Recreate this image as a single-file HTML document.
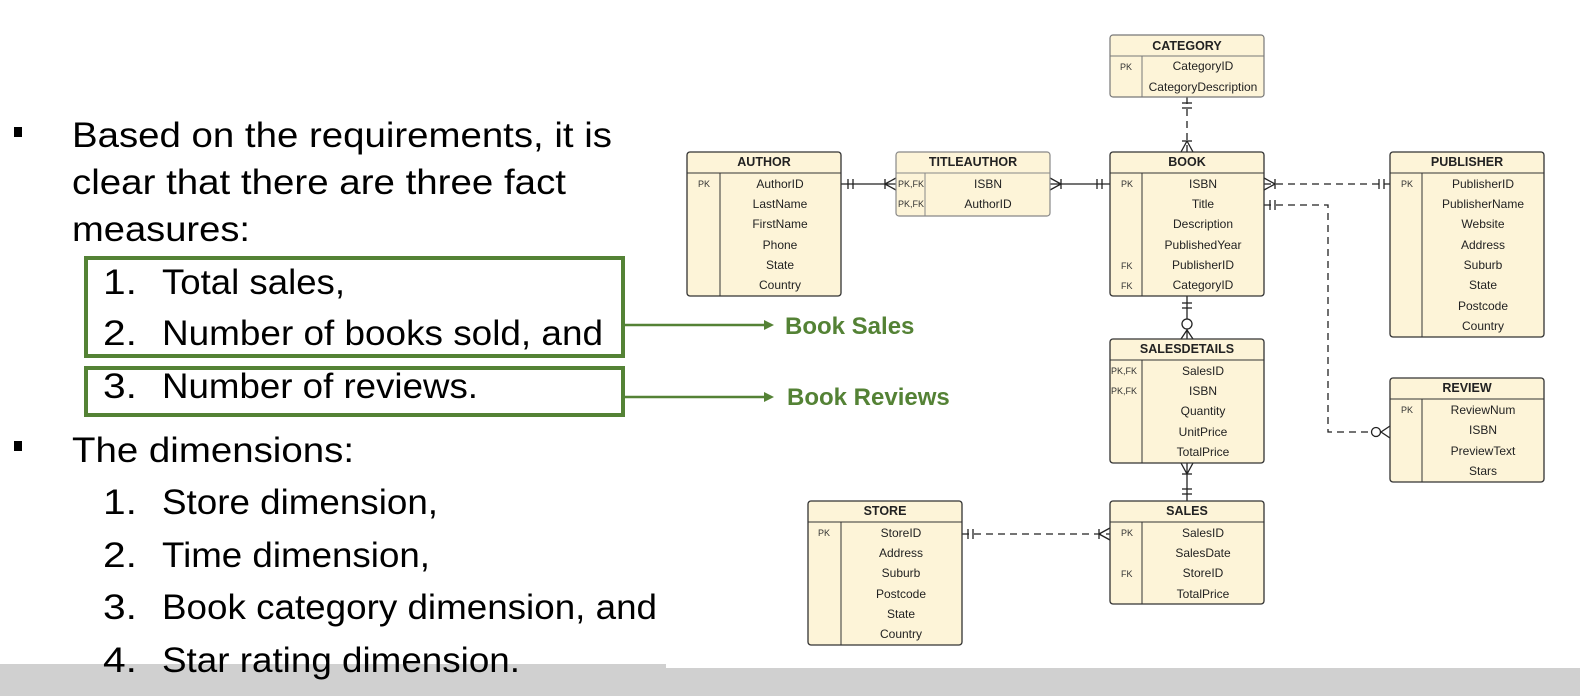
<!DOCTYPE html>
<html><head><meta charset="utf-8"><style>
html,body{margin:0;padding:0;background:#fff;width:1580px;height:696px;overflow:hidden}
svg{display:block}
.t{font-family:"Liberation Sans",Arial,sans-serif;font-size:35px;fill:#000}
.e{font-family:"Liberation Sans",Arial,sans-serif;font-size:12px;fill:#222;text-anchor:middle}
.k{font-family:"Liberation Sans",Arial,sans-serif;font-size:9px;fill:#333}
.h{font-family:"Liberation Sans",Arial,sans-serif;font-size:12.5px;font-weight:bold;fill:#222;text-anchor:middle}
.g{font-family:"Liberation Sans",Arial,sans-serif;font-size:24px;font-weight:bold;fill:#548235}
</style></head><body>
<svg width="1580" height="696" viewBox="0 0 1580 696" xmlns="http://www.w3.org/2000/svg">
<rect x="0" y="664" width="666" height="32" fill="#d0d0d0"/>
<rect x="666" y="668" width="914" height="28" fill="#d0d0d0"/>

<g lengthAdjust="spacingAndGlyphs">
<rect x="14" y="127" width="8" height="10" fill="#000"/>
<rect x="14" y="441" width="8" height="10" fill="#000"/>
<text class="t" x="72" y="147" textLength="540" lengthAdjust="spacingAndGlyphs">Based on the requirements, it is</text>
<text class="t" x="72" y="194" textLength="494" lengthAdjust="spacingAndGlyphs">clear that there are three fact</text>
<text class="t" x="72" y="241" textLength="178" lengthAdjust="spacingAndGlyphs">measures:</text>
<text class="t" x="103" y="294" textLength="34" lengthAdjust="spacingAndGlyphs">1.</text><text class="t" x="162" y="294" textLength="183" lengthAdjust="spacingAndGlyphs">Total sales,</text>
<text class="t" x="103" y="345" textLength="34" lengthAdjust="spacingAndGlyphs">2.</text><text class="t" x="162" y="345" textLength="441" lengthAdjust="spacingAndGlyphs">Number of books sold, and</text>
<text class="t" x="103" y="398" textLength="34" lengthAdjust="spacingAndGlyphs">3.</text><text class="t" x="162" y="398" textLength="316" lengthAdjust="spacingAndGlyphs">Number of reviews.</text>
<text class="t" x="72" y="462" textLength="282" lengthAdjust="spacingAndGlyphs">The dimensions:</text>
<text class="t" x="103" y="514" textLength="34" lengthAdjust="spacingAndGlyphs">1.</text><text class="t" x="162" y="514" textLength="276" lengthAdjust="spacingAndGlyphs">Store dimension,</text>
<text class="t" x="103" y="567" textLength="34" lengthAdjust="spacingAndGlyphs">2.</text><text class="t" x="162" y="567" textLength="268" lengthAdjust="spacingAndGlyphs">Time dimension,</text>
<text class="t" x="103" y="619" textLength="34" lengthAdjust="spacingAndGlyphs">3.</text><text class="t" x="162" y="619" textLength="495" lengthAdjust="spacingAndGlyphs">Book category dimension, and</text>
<text class="t" x="103" y="672" textLength="34" lengthAdjust="spacingAndGlyphs">4.</text><text class="t" x="162" y="672" textLength="358" lengthAdjust="spacingAndGlyphs">Star rating dimension.</text>
</g>

<rect x="86" y="258" width="537" height="98" fill="none" stroke="#548235" stroke-width="4"/>
<rect x="86" y="368" width="537" height="47" fill="none" stroke="#548235" stroke-width="4"/>
<line x1="625" y1="325" x2="766" y2="325" stroke="#548235" stroke-width="2.5"/>
<polygon points="774,325 764,320 764,330" fill="#548235"/>
<line x1="625" y1="397" x2="766" y2="397" stroke="#548235" stroke-width="2.5"/>
<polygon points="774,397 764,392 764,402" fill="#548235"/>
<text class="g" x="785" y="334">Book Sales</text>
<text class="g" x="787" y="405">Book Reviews</text>

<g stroke="#222" stroke-width="1.3" fill="none">
<line x1="841" y1="184" x2="896" y2="184"/>
<line x1="848" y1="179" x2="848" y2="189"/><line x1="853" y1="179" x2="853" y2="189"/>
<line x1="885" y1="179" x2="885" y2="189"/><path d="M885 184 L896 178 M885 184 L896 190"/>
<line x1="1050" y1="184" x2="1110" y2="184"/>
<path d="M1050 178 L1061 184 L1050 190"/><line x1="1061" y1="179" x2="1061" y2="189"/>
<line x1="1097" y1="179" x2="1097" y2="189"/><line x1="1102" y1="179" x2="1102" y2="189"/>
<line x1="1187" y1="97" x2="1187" y2="152" stroke-dasharray="7,5"/>
<line x1="1182" y1="103" x2="1192" y2="103"/><line x1="1182" y1="108" x2="1192" y2="108"/>
<line x1="1182" y1="141" x2="1192" y2="141"/><path d="M1187 141 L1181 152 M1187 141 L1193 152"/>
<line x1="1264" y1="184" x2="1390" y2="184" stroke-dasharray="7,5"/>
<path d="M1264 178 L1275 184 L1264 190"/><line x1="1275" y1="179" x2="1275" y2="189"/>
<line x1="1379" y1="179" x2="1379" y2="189"/><line x1="1384" y1="179" x2="1384" y2="189"/>
<path d="M1264 205 L1328 205 L1328 432 L1372 432" stroke-dasharray="7,5"/>
<line x1="1270" y1="200" x2="1270" y2="210"/><line x1="1275" y1="200" x2="1275" y2="210"/>
<circle cx="1376" cy="432" r="4.5" fill="#fff"/><path d="M1381 432 L1390 426 M1381 432 L1390 438"/>
<line x1="1187" y1="296" x2="1187" y2="339"/>
<line x1="1182" y1="303" x2="1192" y2="303"/><line x1="1182" y1="308" x2="1192" y2="308"/>
<circle cx="1187" cy="324" r="5" fill="#fff"/><path d="M1187 330 L1181 339 M1187 330 L1193 339"/>
<line x1="1187" y1="463" x2="1187" y2="501"/>
<path d="M1181 463 L1187 474 L1193 463"/><line x1="1182" y1="474" x2="1192" y2="474"/>
<line x1="1182" y1="489" x2="1192" y2="489"/><line x1="1182" y1="494" x2="1192" y2="494"/>
<line x1="962" y1="534" x2="1110" y2="534" stroke-dasharray="7,5"/>
<line x1="968" y1="529" x2="968" y2="539"/><line x1="973" y1="529" x2="973" y2="539"/>
<line x1="1099" y1="529" x2="1099" y2="539"/><path d="M1099 534 L1110 528 M1099 534 L1110 540"/>
</g>

<rect x="1110" y="35" width="154" height="62" rx="3" fill="#fdf4d8" stroke="#777" stroke-width="1.2"/>
<line x1="1110" y1="56" x2="1264" y2="56" stroke="#777"/><line x1="1142" y1="56" x2="1142" y2="97" stroke="#777"/>
<text class="h" x="1187" y="50">CATEGORY</text>
<text class="k" x="1120" y="70">PK</text>
<text class="e" x="1203" y="70">CategoryID</text>
<text class="e" x="1203" y="91">CategoryDescription</text>

<rect x="687" y="152" width="154" height="144" rx="3" fill="#fdf4d8" stroke="#333" stroke-width="1.3"/>
<line x1="687" y1="173" x2="841" y2="173" stroke="#333"/><line x1="720" y1="173" x2="720" y2="296" stroke="#333"/>
<text class="h" x="764" y="166">AUTHOR</text>
<text class="k" x="698" y="187">PK</text>
<text class="e" x="780" y="188">AuthorID</text>
<text class="e" x="780" y="208">LastName</text>
<text class="e" x="780" y="228">FirstName</text>
<text class="e" x="780" y="249">Phone</text>
<text class="e" x="780" y="269">State</text>
<text class="e" x="780" y="289">Country</text>

<rect x="896" y="152" width="154" height="64" rx="3" fill="#fdf4d8" stroke="#888" stroke-width="1.2"/>
<line x1="896" y1="173" x2="1050" y2="173" stroke="#888"/><line x1="925" y1="173" x2="925" y2="216" stroke="#888"/>
<text class="h" x="973" y="166">TITLEAUTHOR</text>
<text class="k" x="898" y="187">PK,FK</text><text class="e" x="988" y="188">ISBN</text>
<text class="k" x="898" y="207">PK,FK</text><text class="e" x="988" y="208">AuthorID</text>

<rect x="1110" y="152" width="154" height="144" rx="3" fill="#fdf4d8" stroke="#333" stroke-width="1.3"/>
<line x1="1110" y1="173" x2="1264" y2="173" stroke="#333"/><line x1="1142" y1="173" x2="1142" y2="296" stroke="#333"/>
<text class="h" x="1187" y="166">BOOK</text>
<text class="k" x="1121" y="187">PK</text><text class="e" x="1203" y="188">ISBN</text>
<text class="e" x="1203" y="208">Title</text>
<text class="e" x="1203" y="228">Description</text>
<text class="e" x="1203" y="249">PublishedYear</text>
<text class="k" x="1121" y="269">FK</text><text class="e" x="1203" y="269">PublisherID</text>
<text class="k" x="1121" y="289">FK</text><text class="e" x="1203" y="289">CategoryID</text>

<rect x="1390" y="152" width="154" height="185" rx="3" fill="#fdf4d8" stroke="#333" stroke-width="1.3"/>
<line x1="1390" y1="173" x2="1544" y2="173" stroke="#333"/><line x1="1422" y1="173" x2="1422" y2="337" stroke="#333"/>
<text class="h" x="1467" y="166">PUBLISHER</text>
<text class="k" x="1401" y="187">PK</text><text class="e" x="1483" y="188">PublisherID</text>
<text class="e" x="1483" y="208">PublisherName</text>
<text class="e" x="1483" y="228">Website</text>
<text class="e" x="1483" y="249">Address</text>
<text class="e" x="1483" y="269">Suburb</text>
<text class="e" x="1483" y="289">State</text>
<text class="e" x="1483" y="310">Postcode</text>
<text class="e" x="1483" y="330">Country</text>

<rect x="1110" y="339" width="154" height="124" rx="3" fill="#fdf4d8" stroke="#333" stroke-width="1.3"/>
<line x1="1110" y1="360" x2="1264" y2="360" stroke="#333"/><line x1="1142" y1="360" x2="1142" y2="463" stroke="#333"/>
<text class="h" x="1187" y="353">SALESDETAILS</text>
<text class="k" x="1111" y="374">PK,FK</text><text class="e" x="1203" y="375">SalesID</text>
<text class="k" x="1111" y="394">PK,FK</text><text class="e" x="1203" y="395">ISBN</text>
<text class="e" x="1203" y="415">Quantity</text>
<text class="e" x="1203" y="436">UnitPrice</text>
<text class="e" x="1203" y="456">TotalPrice</text>

<rect x="1390" y="378" width="154" height="104" rx="3" fill="#fdf4d8" stroke="#333" stroke-width="1.3"/>
<line x1="1390" y1="399" x2="1544" y2="399" stroke="#333"/><line x1="1422" y1="399" x2="1422" y2="482" stroke="#333"/>
<text class="h" x="1467" y="392">REVIEW</text>
<text class="k" x="1401" y="413">PK</text><text class="e" x="1483" y="414">ReviewNum</text>
<text class="e" x="1483" y="434">ISBN</text>
<text class="e" x="1483" y="455">PreviewText</text>
<text class="e" x="1483" y="475">Stars</text>

<rect x="808" y="501" width="154" height="144" rx="3" fill="#fdf4d8" stroke="#333" stroke-width="1.3"/>
<line x1="808" y1="522" x2="962" y2="522" stroke="#333"/><line x1="841" y1="522" x2="841" y2="645" stroke="#333"/>
<text class="h" x="885" y="515">STORE</text>
<text class="k" x="818" y="536">PK</text><text class="e" x="901" y="537">StoreID</text>
<text class="e" x="901" y="557">Address</text>
<text class="e" x="901" y="577">Suburb</text>
<text class="e" x="901" y="598">Postcode</text>
<text class="e" x="901" y="618">State</text>
<text class="e" x="901" y="638">Country</text>

<rect x="1110" y="501" width="154" height="103" rx="3" fill="#fdf4d8" stroke="#333" stroke-width="1.3"/>
<line x1="1110" y1="522" x2="1264" y2="522" stroke="#333"/><line x1="1142" y1="522" x2="1142" y2="604" stroke="#333"/>
<text class="h" x="1187" y="515">SALES</text>
<text class="k" x="1121" y="536">PK</text><text class="e" x="1203" y="537">SalesID</text>
<text class="e" x="1203" y="557">SalesDate</text>
<text class="k" x="1121" y="577">FK</text><text class="e" x="1203" y="577">StoreID</text>
<text class="e" x="1203" y="598">TotalPrice</text>
</svg>
</body></html>
